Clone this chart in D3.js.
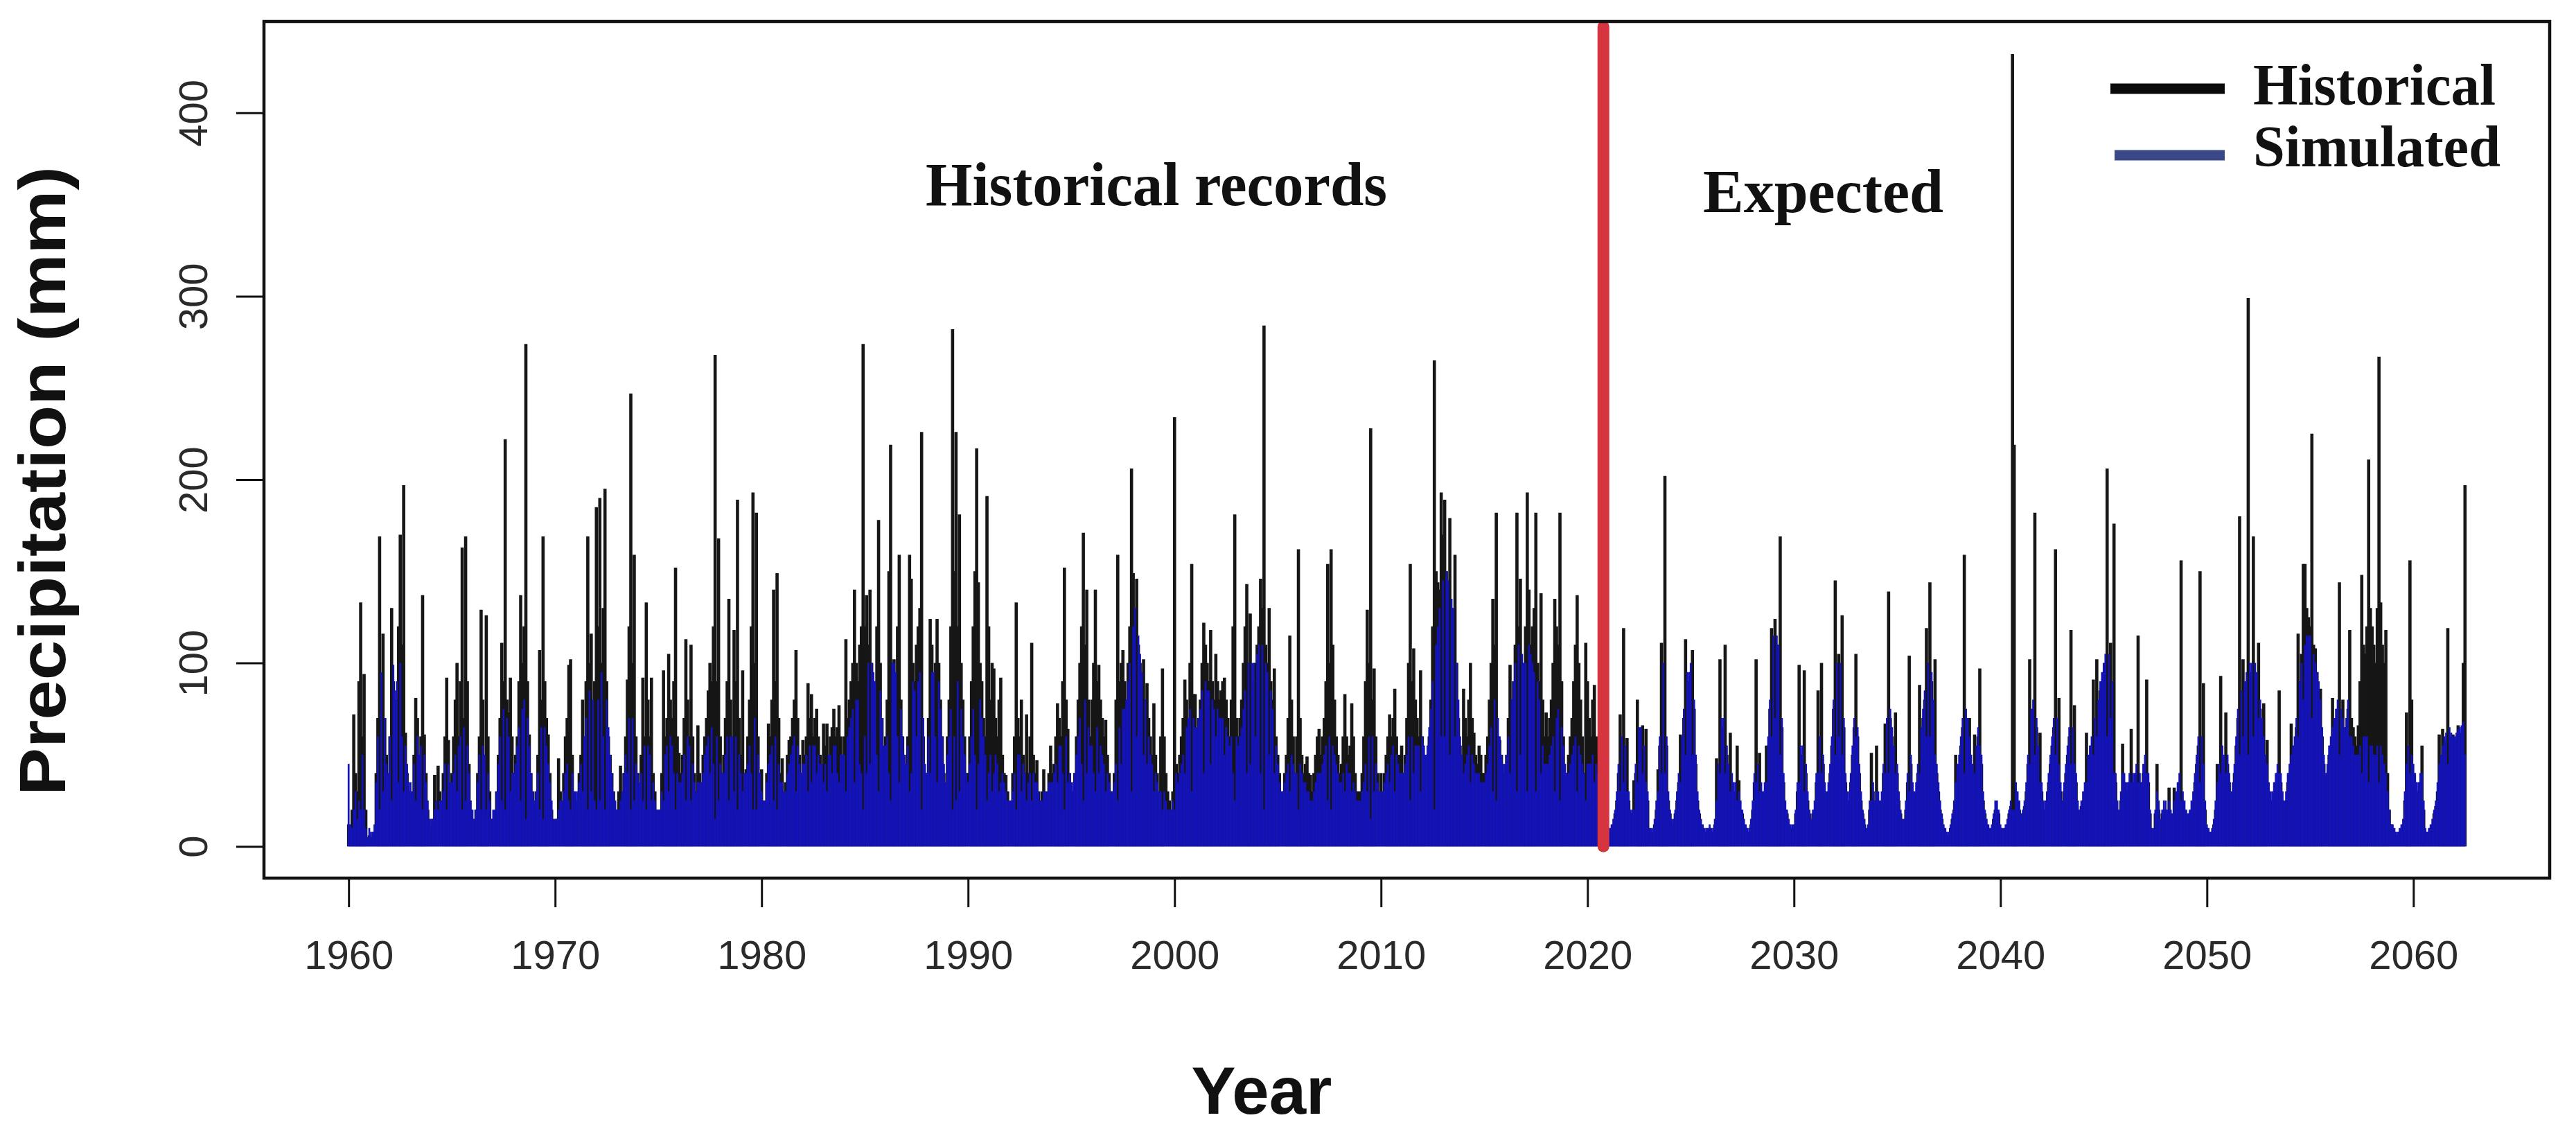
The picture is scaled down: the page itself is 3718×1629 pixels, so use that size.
<!DOCTYPE html>
<html><head><meta charset="utf-8">
<script src="https://cdn.jsdelivr.net/npm/d3@7"></script>
<style>html,body{margin:0;padding:0;background:#fff}</style>
</head><body>
<svg id="chart" width="3718" height="1629"></svg>
<script>
// ---------------- data ----------------
const startYear = 1960;          // first month = Jan 1960, monthly steps
const splitYear = 2020.77;       // red divider
const xTicks = [1960,1970,1980,1990,2000,2010,2020,2030,2040,2050,2060];
const yTicks = [0,100,200,300,400];
const seriesNames = ["Historical","Simulated"];
const regionLabels = ["Historical records","Expected"];

// monthly precipitation (mm), one row per year
const historical = [
[12,8,20,72,40,30,90,133,60,94,20,5],
[6,4,5,8,40,70,169,90,116,70,50,30],
[60,130,90,70,80,120,170,110,197,62,40,30],
[30,20,50,81,70,40,60,137,61,40,20,10],
[10,15,39,20,44,30,25,40,60,92,58,30],
[40,60,80,100,60,90,163,70,169,90,45,20],
[15,10,20,40,60,129,80,50,126,60,30,15],
[10,15,30,50,70,111,90,222,80,73,92,60],
[40,50,60,90,137,100,120,274,90,61,40,30],
[20,30,50,107,80,169,90,70,61,40,20,10],
[10,15,48,30,20,40,60,70,99,102,50,30],
[20,25,40,50,80,60,90,169,100,116,70,90],
[185,120,190,100,130,195,90,60,50,40,30,20],
[20,30,44,30,40,60,91,120,247,100,159,60],
[40,30,50,92,60,133,80,60,92,40,30,20],
[15,20,40,96,60,70,105,80,70,90,152,60],
[51,40,50,70,113,80,60,110,60,40,30,66],
[40,30,50,60,70,85,100,90,120,268,90,168],
[60,40,50,70,90,135,80,60,118,90,189,70],
[50,96,40,42,60,80,120,193,100,182,60,40],
[42,20,25,40,67,60,80,140,90,149,70,40],
[48,30,35,50,58,60,70,80,107,70,50,40],
[58,50,60,89,70,83,60,70,75,60,50,45],
[67,55,67,50,60,65,75,60,65,77,60,50],
[60,113,70,80,90,100,140,100,90,110,120,274],
[120,137,110,140,100,90,80,120,178,100,70,42],
[60,80,150,219,100,102,90,120,159,80,60,50],
[40,60,159,146,100,90,110,120,130,226,60,30],
[40,70,124,110,90,100,124,100,80,60,40,30],
[60,80,120,282,150,226,120,181,100,80,60,40],
[40,60,90,120,150,217,144,100,90,70,60,191],
[120,80,100,97,70,60,80,92,50,40,39,30],
[20,25,40,60,133,70,60,80,50,40,72,40],
[60,111,50,40,47,30,25,30,42,30,25,40],
[55,40,45,60,78,70,60,90,152,80,64,40],
[30,30,40,60,80,100,120,171,110,140,80,60],
[80,100,140,90,99,80,70,60,69,50,40,30],
[30,40,80,159,90,100,107,90,80,100,120,206],
[149,120,146,110,100,90,102,80,89,70,60,50],
[78,50,40,30,60,97,60,40,30,25,20,30],
[234,45,40,50,60,70,91,80,70,100,154,83],
[83,60,70,80,100,122,110,100,90,118,90,80],
[105,90,80,85,90,92,80,70,60,80,120,181],
[70,60,70,80,100,120,143,100,127,90,80,100],
[110,120,146,130,284,110,100,130,90,80,97,60],
[50,40,30,30,40,50,70,115,80,60,40,60],
[162,70,50,40,45,49,40,39,30,40,50,60],
[64,50,60,70,90,154,100,162,110,80,60,50],
[40,45,60,83,60,50,55,78,60,40,30,30],
[30,40,60,90,129,100,228,80,97,60,40,30],
[40,30,40,50,60,72,60,70,86,60,50,50],
[55,40,50,70,100,154,90,108,80,70,60,96],
[60,50,40,45,60,80,120,265,150,144,140,193],
[170,189,150,140,179,130,120,159,100,70,55,50],
[86,70,60,80,100,70,62,50,45,55,50,40],
[40,50,60,80,100,135,110,182,60,58,50,40],
[40,50,70,99,80,90,110,182,120,146,100,80],
[120,193,140,110,120,130,182,100,90,138,80,60],
[73,60,70,80,100,135,120,110,182,90,60,40],
[40,50,60,70,90,110,137,100,80,60,40,111],
[90,70,60,80,88,60,50,40,30,40,20,15],
[8,8,10,12,18,25,40,72,55,119,50,59],
[25,18,18,36,40,80,60,60,66,50,64,25],
[8,8,8,12,20,42,55,111,90,202,55,25],
[18,12,12,18,25,35,61,55,70,113,90,90],
[95,107,75,45,25,18,12,10,8,8,8,10],
[8,8,12,48,40,102,65,65,110,50,40,62],
[35,30,30,55,36,20,18,12,10,8,8,12],
[20,35,102,40,51,30,25,30,55,55,75,119],
[110,124,110,105,169,65,35,20,18,12,10,10],
[10,18,30,99,50,50,96,40,25,18,12,18],
[20,35,85,55,100,45,30,25,30,40,55,75],
[145,95,105,95,126,65,35,25,25,35,50,65],
[105,60,40,25,18,12,8,10,20,51,30,20],
[55,25,20,25,40,67,65,139,70,60,50,73],
[40,25,18,12,12,20,35,104,45,30,25,30],
[40,88,60,70,80,119,95,144,90,75,102,40],
[30,20,15,10,8,6,6,10,15,20,50,40],
[45,55,65,159,70,65,70,45,40,61,50,60],
[97,45,25,18,12,10,8,10,15,20,20,18],
[10,8,8,10,12,18,22,432,219,30,25,20],
[15,18,22,30,45,102,70,75,182,65,50,62],
[30,20,20,25,35,45,55,65,162,65,81,30],
[20,30,40,50,60,118,60,77,35,20,18,22],
[25,30,62,45,50,55,91,65,102,75,85,90],
[95,100,206,100,111,85,176,35,20,18,25,56],
[35,30,30,35,64,35,35,40,115,35,30,40],
[45,91,35,18,8,8,18,45,20,12,18,20],
[20,18,32,18,15,32,25,30,35,156,25,20],
[18,15,18,20,25,35,45,55,150,55,89,20],
[10,8,6,8,12,20,45,40,93,50,45,73],
[45,35,25,30,40,55,70,180,80,102,85,90],
[299,95,95,169,95,90,111,75,65,78,45,58],
[30,25,25,30,35,40,85,35,25,20,25,35],
[40,67,50,55,65,116,90,105,154,154,130,125],
[120,225,110,108,95,85,86,60,45,35,40,50],
[55,81,65,70,75,144,70,80,60,65,75,118],
[70,65,60,55,66,90,148,110,105,120,211,130],
[120,110,100,130,267,133,110,100,118,40,20,12],
[10,8,6,6,8,10,12,25,73,50,156,80],
[40,35,30,30,35,55,20,8,6,8,10,12],
[18,22,30,61,45,64,55,58,119,60,58,61],
[55,58,66,60,62,100,197]
];

const simulated = [
[45,12,10,20,30,15,25,20,50,20,10,5],
[10,8,8,12,35,60,20,95,30,70,45,40],
[60,25,99,85,90,35,100,60,30,55,45,35],
[35,30,45,25,60,50,55,20,50,35,25,15],
[15,15,20,25,20,25,25,30,45,20,45,35],
[35,40,50,30,55,60,20,65,25,55,40,25],
[20,15,20,35,50,20,55,50,20,40,25,15],
[20,20,30,45,60,25,75,20,70,60,30,40],
[40,45,55,65,25,75,80,15,70,55,40,30],
[25,30,40,20,65,15,65,55,45,35,25,15],
[15,15,20,25,25,30,40,45,25,20,40,30],
[30,30,35,45,30,60,70,20,85,30,80,25],
[20,80,25,95,60,20,80,65,50,40,30,25],
[20,20,25,30,40,50,40,70,20,70,25,45],
[40,35,40,25,55,20,55,50,25,35,25,20],
[20,20,30,25,50,55,30,60,55,40,20,40],
[35,35,40,50,25,60,55,25,45,35,30,35],
[35,35,40,50,55,60,40,65,45,15,60,25],
[45,40,40,50,60,25,60,60,30,60,20,50],
[40,30,40,40,45,55,40,20,70,20,50,40],
[30,25,25,35,45,50,55,25,60,20,45,35],
[35,30,30,40,45,50,55,60,30,55,45,40],
[45,45,50,30,55,35,55,55,40,50,45,45],
[35,45,30,50,50,40,55,55,40,35,50,50],
[50,30,60,65,70,75,35,80,80,45,40,20],
[60,40,100,45,100,95,90,50,30,85,70,55],
[55,60,40,25,100,100,95,60,35,75,60,50],
[45,55,30,40,90,85,60,90,95,20,70,45],
[40,60,40,95,95,60,35,90,75,60,45,35],
[50,60,75,20,60,25,90,30,75,60,50,40],
[35,45,60,75,50,20,45,80,70,60,50,25],
[40,50,30,40,50,45,30,35,40,35,30,25],
[25,25,30,40,20,50,50,30,45,40,25,35],
[40,25,40,35,35,30,25,25,30,30,30,35],
[35,35,40,45,35,55,55,40,20,60,35,40],
[35,35,40,50,60,70,45,25,80,40,65,55],
[55,40,30,65,40,55,50,45,30,40,35,30],
[30,35,45,25,65,45,75,75,80,90,100,30],
[120,130,60,115,105,95,50,80,45,60,50,45],
[30,40,35,30,30,20,30,25,20,20,20,25],
[20,40,35,40,45,50,40,65,70,75,30,70],
[65,65,70,75,85,40,90,85,85,45,80,75],
[60,75,70,70,70,50,65,60,55,60,40,25],
[60,55,60,65,75,85,40,100,45,100,100,60],
[105,110,40,110,20,100,95,50,85,75,40,55],
[45,35,30,30,35,40,45,30,50,45,40,40],
[20,45,40,35,35,30,30,25,25,30,35,40],
[40,40,45,50,55,25,60,20,55,50,45,40],
[35,35,40,30,45,40,40,30,35,30,25,25],
[25,30,35,45,30,60,15,60,30,45,35,30],
[30,30,35,40,45,35,50,55,30,50,45,40],
[40,40,45,50,60,25,60,40,55,55,55,30],
[60,55,50,55,65,75,90,20,110,120,130,60],
[145,60,150,145,50,135,130,60,100,80,60,50],
[40,45,50,55,35,50,45,40,40,40,35,35],
[35,40,45,55,65,30,80,25,70,60,50,45],
[45,50,60,40,80,90,100,30,110,50,105,100],
[100,30,110,105,100,95,30,90,80,40,55,45],
[45,45,50,55,60,30,70,75,25,65,55,45],
[40,40,45,50,55,60,30,55,50,45,40,25],
[45,45,45,50,35,45,40,35,30,25,20,15],
[10,10,12,15,20,30,45,30,60,35,55,30],
[30,20,20,20,45,35,65,65,40,55,35,30],
[10,10,10,15,25,30,60,40,100,40,60,30],
[20,15,15,20,30,40,35,60,75,50,95,95],
[100,50,80,50,30,20,15,12,10,10,10,12],
[10,10,15,25,45,40,70,70,40,55,45,30],
[40,35,35,25,30,25,20,15,12,10,10,15],
[25,40,35,45,30,35,30,35,35,60,80,60],
[115,70,115,110,50,70,40,25,20,15,12,12],
[12,20,35,35,55,55,30,45,30,20,15,20],
[25,40,40,60,40,50,35,30,35,45,60,80],
[50,100,60,100,50,70,40,30,30,40,55,70],
[60,65,45,30,20,15,10,12,25,25,35,25],
[30,30,25,30,45,40,70,40,75,65,55,40],
[45,30,20,15,15,25,40,30,50,35,30,35],
[45,40,65,75,85,60,100,60,95,80,50,45],
[35,25,18,12,10,8,8,12,18,25,35,45],
[50,60,70,40,75,70,60,50,45,40,55,65],
[55,50,30,20,15,12,10,12,18,25,25,20],
[12,10,10,12,15,20,25,20,20,35,30,25],
[18,20,25,35,50,45,75,80,50,70,55,35],
[35,25,25,30,40,50,60,70,50,70,45,35],
[25,35,45,55,65,45,65,45,40,25,20,25],
[30,35,35,50,55,60,50,70,60,80,90,95],
[100,105,60,105,70,90,40,40,25,20,30,40],
[40,35,35,40,35,40,40,45,35,40,35,45],
[50,40,40,20,10,10,20,30,25,15,20,25],
[25,20,25,20,18,25,30,35,40,25,30,25],
[20,18,20,25,30,40,50,60,35,60,45,25],
[12,10,8,10,15,25,35,45,40,55,50,40],
[50,40,30,35,45,60,75,50,85,60,90,95],
[50,100,100,60,100,95,70,80,70,60,50,45],
[35,30,30,35,40,45,40,40,30,25,30,40],
[45,50,55,60,70,60,90,100,80,110,115,115],
[115,70,105,100,95,90,80,65,50,40,45,55],
[60,65,70,75,80,50,75,70,65,70,80,60],
[60,55,50,50,50,55,40,60,60,60,35,55],
[55,50,50,55,35,55,50,45,40,30,20,12],
[12,10,8,8,10,12,15,30,45,55,40,50],
[45,40,35,35,40,40,25,10,8,10,12,15],
[20,25,35,45,50,55,60,62,45,65,62,60],
[60,62,64,65,66,68,50]
];

// ---------------- drawing ----------------
const svg = d3.select("#chart");
svg.append("rect").attr("width",3718).attr("height",1629).attr("fill","#fff");

const box = {left:381, top:31, right:3680, bottom:1267};
const x = d3.scaleLinear().domain([1955.9, 2066.6]).range([box.left, box.right]);
const y = d3.scaleLinear().domain([-17.3, 449.8]).range([box.bottom, box.top]);

const flatten = rows => rows.flatMap((r, yi) => r.map((v, m) => ({t: startYear + yi + m / 12, v})));
const hData = flatten(historical);
const sData = flatten(simulated);

const sansFont = "'Liberation Sans', Arial, Helvetica, sans-serif";
const serifFont = "'Liberation Serif', 'Times New Roman', serif";

// historical spikes (drawn first)
svg.append("g").selectAll("line").data(hData).join("line")
  .attr("x1", d => x(d.t)).attr("x2", d => x(d.t))
  .attr("y1", y(0)).attr("y2", d => y(d.v))
  .attr("stroke", "#161616").attr("stroke-width", 4.6);

// simulated (on top)
svg.append("g").selectAll("line").data(sData).join("line")
  .attr("x1", d => x(d.t)).attr("x2", d => x(d.t))
  .attr("y1", y(0)).attr("y2", d => y(d.v))
  .attr("stroke", "#1313b8").attr("stroke-width", 2.7);

// red divider
svg.append("line")
  .attr("x1", x(splitYear)).attr("x2", x(splitYear))
  .attr("y1", y(0)).attr("y2", y(447))
  .attr("stroke", "#d6343f").attr("stroke-width", 17).attr("stroke-linecap", "round");

// plot frame
svg.append("rect")
  .attr("x", box.left).attr("y", box.top)
  .attr("width", box.right - box.left).attr("height", box.bottom - box.top)
  .attr("fill", "none").attr("stroke", "#111").attr("stroke-width", 4.5);

// x axis
const gx = svg.append("g").attr("transform", `translate(0,${box.bottom})`)
  .call(d3.axisBottom(x).tickValues(xTicks).tickFormat(d3.format("d")).tickSize(42).tickPadding(48));
gx.select(".domain").remove();
gx.selectAll(".tick line").attr("stroke", "#111").attr("stroke-width", 3);
gx.selectAll(".tick text").attr("font-family", sansFont).attr("font-size", 58).attr("fill", "#2a2a2a");

// y axis
const gy = svg.append("g").attr("transform", `translate(${box.left},0)`)
  .call(d3.axisLeft(y).tickValues(yTicks).tickSize(40));
gy.select(".domain").remove();
gy.selectAll(".tick line").attr("stroke", "#111").attr("stroke-width", 3);
gy.selectAll(".tick text")
  .attr("x", null).attr("dy", null)
  .attr("transform", "translate(-82,0) rotate(-90)")
  .attr("text-anchor", "middle")
  .attr("font-family", sansFont).attr("font-size", 58).attr("fill", "#2a2a2a");

// axis titles
svg.append("text")
  .attr("transform", "translate(94,694) rotate(-90)")
  .attr("text-anchor", "middle")
  .attr("font-family", sansFont).attr("font-weight", "bold").attr("font-size", 94)
  .attr("textLength", 908).attr("lengthAdjust", "spacingAndGlyphs")
  .attr("fill", "#111")
  .text("Precipitation (mm)");

svg.append("text")
  .attr("x", 1821).attr("y", 1607)
  .attr("text-anchor", "middle")
  .attr("font-family", sansFont).attr("font-weight", "bold").attr("font-size", 96)
  .attr("fill", "#111")
  .text("Year");

// region annotations
svg.append("text")
  .attr("x", 1336).attr("y", 296)
  .attr("font-family", serifFont).attr("font-weight", "bold").attr("font-size", 88)
  .attr("textLength", 666).attr("lengthAdjust", "spacingAndGlyphs")
  .attr("fill", "#111").text(regionLabels[0]);
svg.append("text")
  .attr("x", 2458).attr("y", 306)
  .attr("font-family", serifFont).attr("font-weight", "bold").attr("font-size", 88)
  .attr("textLength", 347).attr("lengthAdjust", "spacingAndGlyphs")
  .attr("fill", "#111").text(regionLabels[1]);

// legend
const legendItems = [
  {name: seriesNames[0], color: "#0a0a0a", x1: 3046, y: 128, ty: 151, tl: 350},
  {name: seriesNames[1], color: "#3a4888", x1: 3052, y: 224, ty: 240, tl: 357}
];
const lg = svg.append("g");
lg.selectAll("line").data(legendItems).join("line")
  .attr("x1", d => d.x1).attr("x2", 3211)
  .attr("y1", d => d.y).attr("y2", d => d.y)
  .attr("stroke", d => d.color).attr("stroke-width", 15);
lg.selectAll("text").data(legendItems).join("text")
  .attr("x", 3252).attr("y", d => d.ty)
  .attr("font-family", serifFont).attr("font-weight", "bold").attr("font-size", 84)
  .attr("textLength", d => d.tl).attr("lengthAdjust", "spacingAndGlyphs")
  .attr("fill", "#111").text(d => d.name);
</script>
</body></html>
